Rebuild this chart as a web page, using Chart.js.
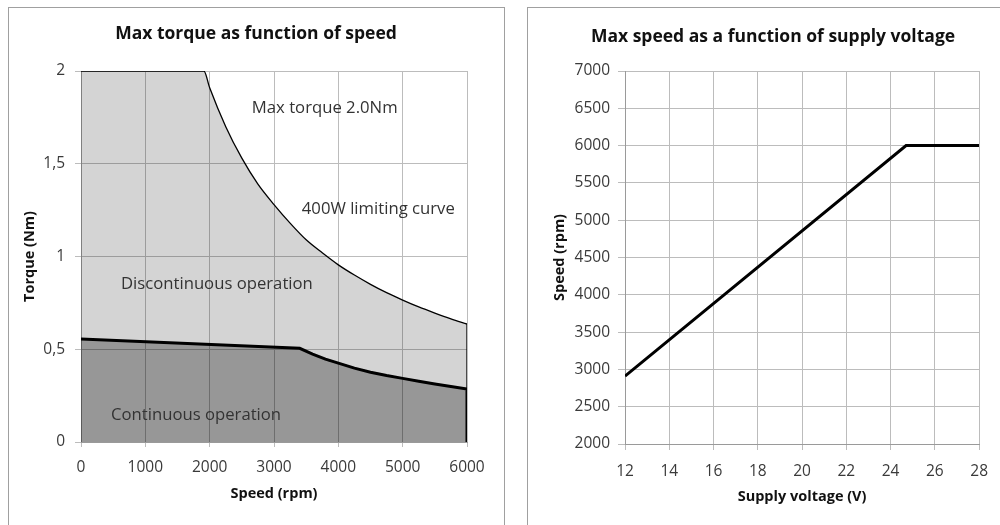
<!DOCTYPE html>
<html>
<head>
<meta charset="utf-8">
<script src="https://cdn.jsdelivr.net/npm/chart.js@4/dist/chart.umd.min.js"></script>
<style>
  html, body { margin: 0; padding: 0; background: #ffffff; overflow: hidden; width: 1000px; height: 525px; }
  .panel { position: absolute; border: 1px solid #a0a0a0; background: #fff; }
  canvas { position: absolute; }
</style>
</head>
<body>
<div class="panel" style="left:8px; top:7px; width:495px; height:540px;"></div>
<div class="panel" style="left:527px; top:7px; width:500px; height:540px;"></div>
<canvas id="left" width="494" height="517" style="left:9px; top:8px;"></canvas>
<canvas id="right" width="472" height="517" style="left:528px; top:8px;"></canvas>
<script>
// ---------- Data: left chart (torque vs speed) ----------
const torqueTitle = 'Max torque as function of speed';
const torqueXTitle = 'Speed (rpm)';
const torqueYTitle = 'Torque (Nm)';
const torqueTickLabels = ['0', '0,5', '1', '1,5', '2'];
const speedTickLabels = ['0', '1000', '2000', '3000', '4000', '5000', '6000'];

// 400 W limiting curve (max torque 2.0 Nm)
const limitSpeed  = [0, 1910, 2000, 2250, 2500, 2750, 3000, 3250, 3500, 3750, 4000, 4250, 4500, 4750, 5000, 5250, 5500, 5750, 6000];
const limitTorque = [2.0, 2.0, 1.91, 1.70, 1.53, 1.39, 1.28, 1.18, 1.09, 1.02, 0.955, 0.90, 0.85, 0.805, 0.765, 0.728, 0.695, 0.664, 0.636];

// Continuous operation curve
const contSpeed  = [0, 3400, 3600, 3800, 4000, 4250, 4500, 4750, 5000, 5250, 5500, 5750, 6000, 6000];
const contTorque = [0.555, 0.505, 0.474, 0.447, 0.425, 0.398, 0.376, 0.358, 0.343, 0.328, 0.313, 0.299, 0.286, 0];

// Text labels inside the plot: [text, speed, torque]
const torqueNotes = [
  ['Max torque 2.0Nm', 2655, 1.80],
  ['400W limiting curve', 3432, 1.256],
  ['Discontinuous operation', 621, 0.852],
  ['Continuous operation', 466, 0.146]
];

// ---------- Data: right chart (speed vs voltage) ----------
const speedTitle = 'Max speed as a function of supply voltage';
const speedXTitle = 'Supply voltage (V)';
const speedYTitle = 'Speed (rpm)';
const voltageTickLabels = ['12', '14', '16', '18', '20', '22', '24', '26', '28'];
const rpmTickLabels = ['2000', '2500', '3000', '3500', '4000', '4500', '5000', '5500', '6000', '6500', '7000'];
const voltage = [12, 24.7, 28];
const maxSpeed = [2910, 6000, 6000];

// ---------- Rendering ----------
const FONT = "'Open Sans', 'DejaVu Sans', sans-serif";
const GRID = '#bcbcbc';
const TICKCOL = '#3a3a3a';
const TICKFONT = { family: FONT, size: 15.5 };
const AXTITLEFONT = { family: FONT, size: 14.5, weight: 'bold', lineHeight: 1.2 };
const TITLEFONT = { family: FONT, size: 17.5, weight: 'bold', lineHeight: 1.2 };

function pts(xs, ys) { return xs.map((x, i) => ({ x: x, y: ys[i] })); }

// empty right-hand spacer axis so the plot ends where the reference's does
function spacer(width) {
  return {
    position: 'right', display: true,
    grid: { display: false }, ticks: { display: false }, border: { display: false },
    afterFit(s) { s.width = width; }
  };
}

const notesPlugin = {
  id: 'notes',
  afterDatasetsDraw(chart, args, opts) {
    if (!opts.items) return;
    const ctx = chart.ctx;
    ctx.save();
    ctx.font = '16.7px ' + FONT;
    ctx.fillStyle = '#333333';
    ctx.textAlign = 'left';
    ctx.textBaseline = 'middle';
    opts.items.forEach(n => {
      ctx.fillText(n[0], chart.scales.x.getPixelForValue(n[1]), chart.scales.y.getPixelForValue(n[2]));
    });
    ctx.restore();
  }
};
Chart.register(notesPlugin);

const lastSpeed = limitSpeed[limitSpeed.length - 1];
const lastLimit = limitTorque[limitTorque.length - 1];

new Chart(document.getElementById('left'), {
  type: 'line',
  data: {
    datasets: [
      {
        label: 'Continuous operation',
        data: pts(contSpeed, contTorque),
        borderColor: '#000000',
        borderWidth: 3,
        backgroundColor: 'rgba(0,0,0,0.29)',
        fill: 'origin',
        pointRadius: 0,
        tension: 0
      },
      {
        label: 'edge',
        data: [{ x: lastSpeed, y: lastLimit }, { x: lastSpeed, y: 0 }],
        borderColor: '#000000',
        borderWidth: 1.3,
        fill: false,
        pointRadius: 0
      },
      {
        label: '400W limiting curve',
        data: pts(limitSpeed, limitTorque),
        borderColor: '#000000',
        borderWidth: 1.3,
        backgroundColor: 'rgba(0,0,0,0.17)',
        fill: 'origin',
        pointRadius: 0,
        cubicInterpolationMode: 'monotone'
      }
    ]
  },
  options: {
    responsive: false,
    animation: false,
    events: [],
    layout: { padding: { left: 0, right: 0, top: 0, bottom: 0 } },
    plugins: {
      legend: { display: false },
      tooltip: { enabled: false },
      title: {
        display: true,
        text: torqueTitle,
        color: '#111111',
        font: TITLEFONT,
        padding: { top: 16, bottom: 26 }
      },
      notes: { items: torqueNotes }
    },
    scales: {
      x: {
        type: 'linear',
        min: 0, max: 6000,
        grid: { color: GRID, lineWidth: 1, tickLength: 5, drawTicks: true },
        border: { color: '#9a9a9a' },
        ticks: { stepSize: 1000, maxRotation: 0, autoSkip: false, color: TICKCOL, padding: 11, font: TICKFONT,
                 callback: (v, i) => speedTickLabels[i] },
        title: { display: true, text: torqueXTitle, color: '#111111', font: AXTITLEFONT, padding: { top: 0, bottom: 22 } },
        afterFit(s) { s.height = 83; }
      },
      y: {
        min: 0, max: 2,
        grid: { color: GRID, lineWidth: 1, tickLength: 6, drawTicks: true },
        border: { color: '#9a9a9a' },
        ticks: { stepSize: 0.5, color: TICKCOL, padding: 10, font: TICKFONT,
                 callback: (v, i) => torqueTickLabels[i] },
        title: { display: true, text: torqueYTitle, color: '#111111', font: AXTITLEFONT, padding: { top: 12, bottom: 0 } },
        afterFit(s) { s.width = 72; }
      },
      spacer: spacer(36)
    }
  }
});

new Chart(document.getElementById('right'), {
  type: 'line',
  data: {
    datasets: [
      {
        label: 'Max speed',
        data: pts(voltage, maxSpeed),
        borderColor: '#000000',
        borderWidth: 3,
        fill: false,
        pointRadius: 0,
        tension: 0
      }
    ]
  },
  options: {
    responsive: false,
    animation: false,
    events: [],
    layout: { padding: { left: 18, right: 0, top: 0, bottom: 0 } },
    plugins: {
      legend: { display: false },
      tooltip: { enabled: false },
      title: {
        display: true,
        text: speedTitle,
        color: '#111111',
        font: TITLEFONT,
        padding: { top: 19, bottom: 23 }
      }
    },
    scales: {
      x: {
        type: 'linear',
        min: 12, max: 28,
        grid: { color: GRID, lineWidth: 1, tickLength: 6, drawTicks: true },
        border: { color: '#9a9a9a' },
        ticks: { stepSize: 2, maxRotation: 0, autoSkip: false, color: TICKCOL, padding: 12, font: TICKFONT,
                 callback: (v, i) => voltageTickLabels[i] },
        title: { display: true, text: speedXTitle, color: '#111111', font: AXTITLEFONT, padding: { top: 0, bottom: 19 } },
        afterFit(s) { s.height = 81; }
      },
      y: {
        min: 2000, max: 7000,
        grid: { color: GRID, lineWidth: 1, tickLength: 7, drawTicks: true },
        border: { color: '#9a9a9a' },
        ticks: { stepSize: 500, autoSkip: false, color: TICKCOL, padding: 8, font: TICKFONT,
                 callback: (v, i) => rpmTickLabels[i] },
        title: { display: true, text: speedYTitle, color: '#111111', font: AXTITLEFONT, padding: { top: 5, bottom: 0 } },
        afterFit(s) { s.width = 79; }
      },
      spacer: spacer(16)
    }
  }
});
</script>
</body>
</html>
